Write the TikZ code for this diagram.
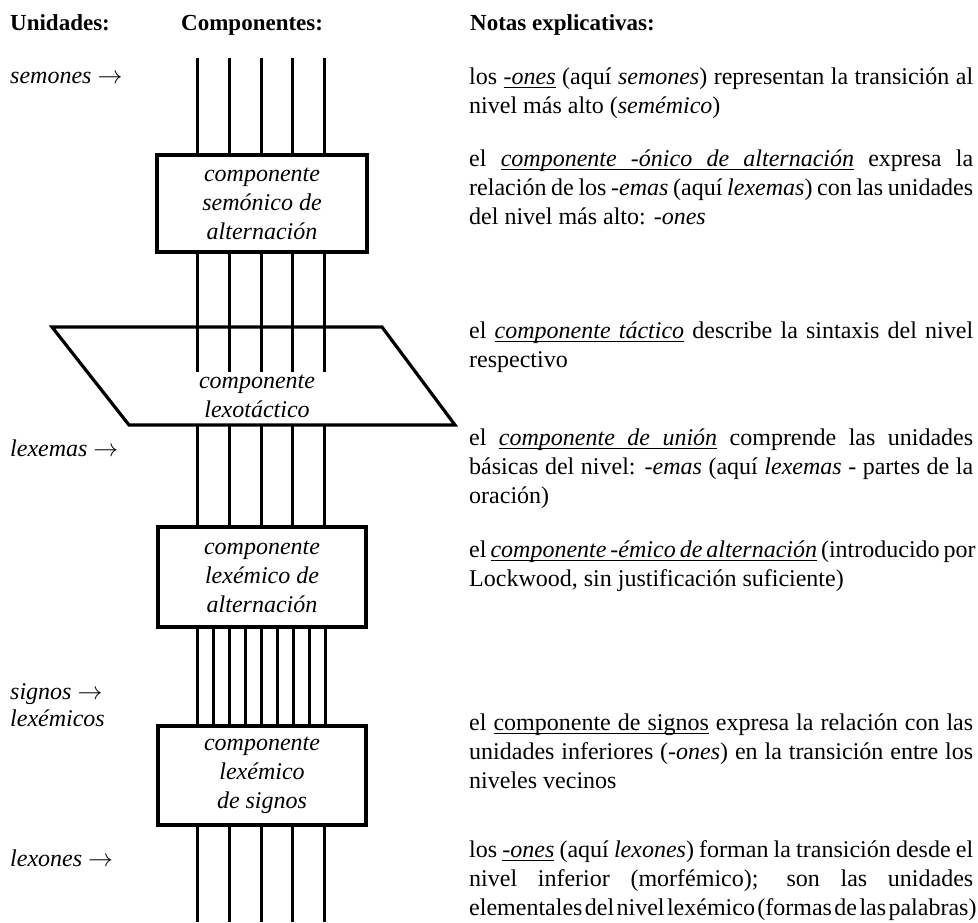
\documentclass[tikz,border=0pt]{standalone}
\usepackage{fontspec}
\setmainfont{Liberation Serif}
\newcommand\ntsize{\fontsize{24}{29}\selectfont}
\newcommand\jline[1]{\makebox[504pt][s]{#1}}
\newcommand\ulw[1]{{\setbox0\hbox{#1}\rlap{\vrule height -2.6pt depth 4.1pt width \wd0}\box0}}
\newcommand\ulsp{\leaders\hrule height -2.6pt depth 4.1pt\hskip\fontdimen2\font plus\fontdimen3\font minus\fontdimen4\font\relax}
\tikzset{
  wire/.style={line width=3pt},
  frame/.style={line width=3.2pt, line join=miter},
  cbox/.style={draw, line width=3.4pt, minimum width=210pt, minimum height=97pt,
    inner sep=0pt, align=center, font=\ntsize\itshape},
  tacl/.style={inner sep=0pt, align=center, font=\ntsize\itshape},
  note/.style={anchor=base west, inner sep=0pt},
  unit/.style={anchor=base west, inner sep=0pt, font=\ntsize\itshape},
  head/.style={anchor=base west, inner sep=0pt, font=\fontsize{23}{28}\selectfont\bfseries}
}
\begin{document}
\begin{tikzpicture}[x=1pt,y=-1pt]
\useasboundingbox (0,0) rectangle (978,922);
% headers
\node[head] (h1) at (10,30) {Unidades:};
\node[head] (h2) at (181,30) {Componentes:};
\node[head] (h3) at (470,30) {Notas explicativas:};
% left unit labels
\node[unit] (u1) at (10,83) {semones $\rightarrow$};
\node[unit] (u2) at (10,456) {lexemas $\rightarrow$};
\node[unit] (u3) at (10,699) {signos $\rightarrow$};
\node[unit] (u4) at (10,726) {lexémicos};
\node[unit] (u5) at (10,866) {lexones $\rightarrow$};
% component boxes
\node[cbox] (sem) at (262,203.5) {componente\\semónico de\\alternación};
\node[cbox, minimum width=208pt, minimum height=100pt] (lexalt) at (262,577) {componente\\lexémico de\\alternación};
\node[cbox, minimum width=208pt, minimum height=99pt] (sig) at (262,775.5) {componente\\lexémico\\de signos};
% lexotactic parallelogram
\coordinate (pa) at (52,327);
\coordinate (pb) at (382,327);
\coordinate (pc) at (455,425);
\coordinate (pd) at (129,425);
\draw[frame] (pa) -- (pb) -- (pc) -- (pd) -- cycle;
\node[tacl] (tac) at (257,396) {componente\\lexotáctico};
% vertical lines
\foreach \x [count=\i] in {197,229,261,292,324} {
  \coordinate (a\i) at (\x,58);
  \coordinate (b\i) at (\x,372);
  \coordinate (c\i) at (\x,922);
  \draw[wire] (a\i) -- (a\i |- sem.north);
  \draw[wire] (a\i |- sem.south) -- (b\i);
  \draw[wire] (a\i |- pd) -- (a\i |- lexalt.north);
  \draw[wire] (a\i |- sig.south) -- (c\i);
}
\foreach \i in {0,...,8} {
  \coordinate (m\i) at ({197+16*\i},627);
  \draw[wire] (m\i |- lexalt.south) -- (m\i |- sig.north);
}
% explanatory notes
\node[note] (n1) at (469,84) {\parbox[t]{504pt}{\ntsize
  \jline{los \textit{\ulw{-ones}} (aquí \textit{semones}) representan la transición al}\\
  nivel más alto (\textit{semémico})}};
\node[note] (n2) at (469,166) {\parbox[t]{504pt}{\ntsize
  \jline{el \textit{\ulw{componente}\ulsp\ulw{-ónico}\ulsp\ulw{de}\ulsp\ulw{alternación}} expresa la}\\
  \jline{relación de los \textit{-emas} (aquí \textit{lexemas}) con las unidades}\\
  del nivel más alto: \textit{-ones}}};
\node[note] (n3) at (469,338) {\parbox[t]{504pt}{\ntsize
  \jline{el \textit{\ulw{componente}\ulsp\ulw{táctico}} describe la sintaxis del nivel}\\
  respectivo}};
\node[note] (n4) at (469,445) {\parbox[t]{504pt}{\ntsize
  \jline{el \textit{\ulw{componente}\ulsp\ulw{de}\ulsp\ulw{unión}} comprende las unidades}\\
  \jline{básicas del nivel: \textit{-emas} (aquí \textit{lexemas} - partes de la}\\
  oración)}};
\node[note] (n5) at (469,557) {\parbox[t]{504pt}{\ntsize
  \jline{el \textit{\ulw{componente}\ulsp\ulw{-émico}\ulsp\ulw{de}\ulsp\ulw{alternación}} (introducido por}\\
  Lockwood, sin justificación suficiente)}};
\node[note] (n6) at (469,730) {\parbox[t]{504pt}{\ntsize
  \jline{el \ulw{componente}\ulsp\ulw{de}\ulsp\ulw{signos} expresa la relación con las}\\
  \jline{unidades inferiores (\textit{-ones}) en la transición entre los}\\
  niveles vecinos}};
\node[note] (n7) at (469,857) {\parbox[t]{504pt}{\ntsize
  \jline{los \textit{\ulw{-ones}} (aquí \textit{lexones}) forman la transición desde el}\\
  \jline{nivel inferior (morfémico); son las unidades}\\
  \jline{\spaceskip=0.1em plus 0.2em\relax elementales del nivel lexémico (formas de las palabras)}}};
\end{tikzpicture}
\end{document}
